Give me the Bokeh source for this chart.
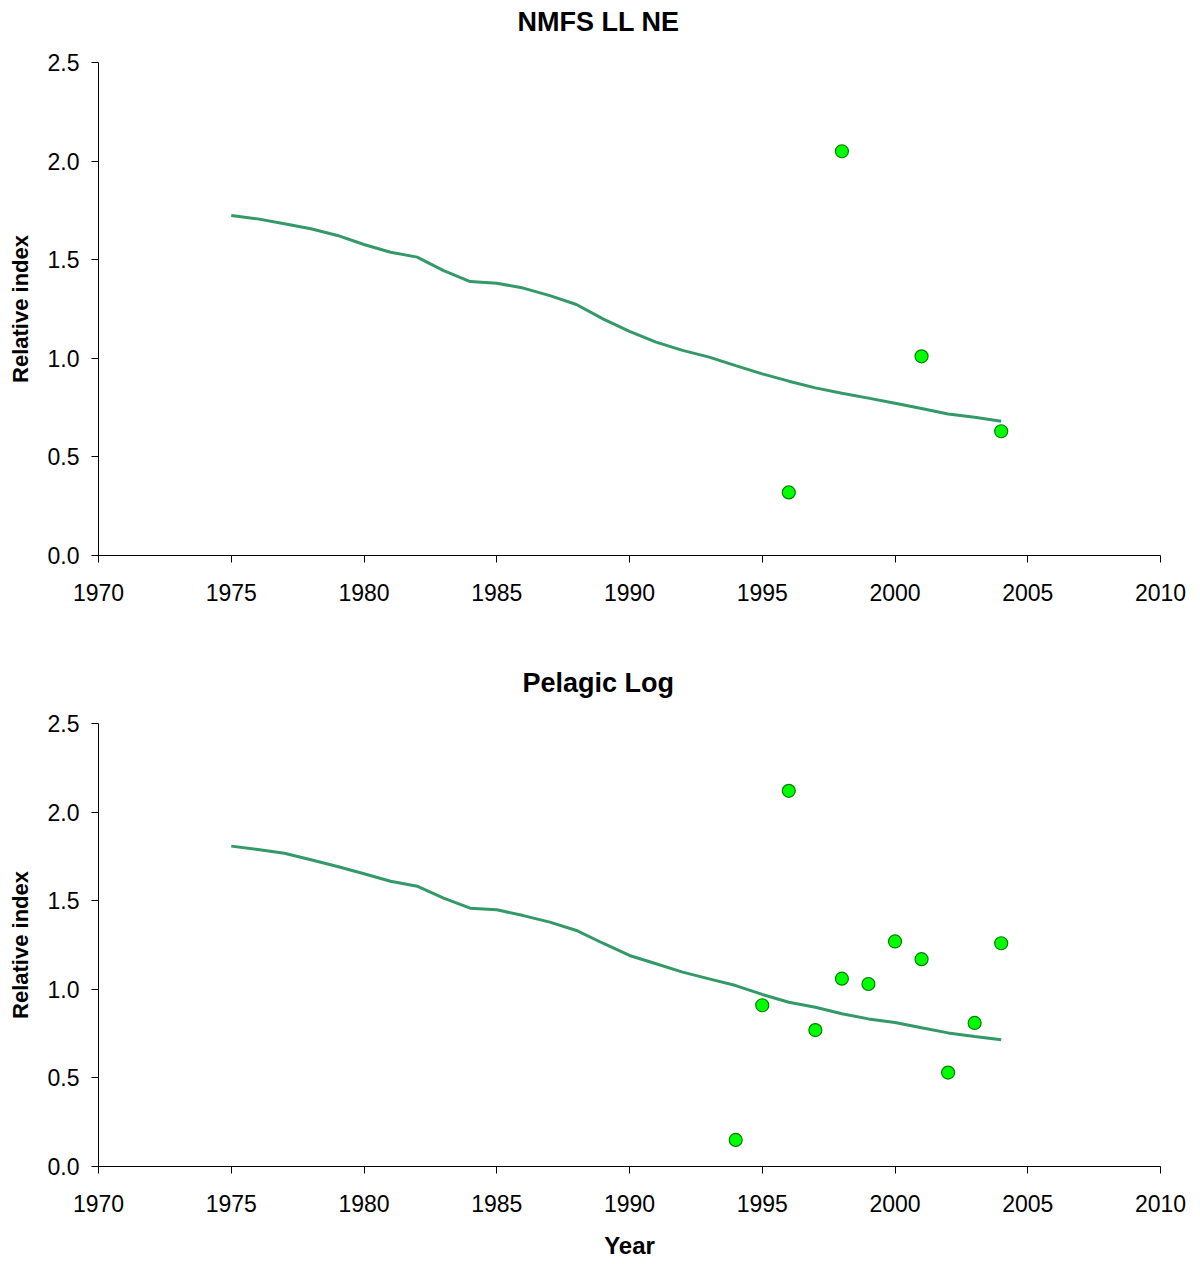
from bokeh.plotting import figure
from bokeh.layouts import column
from bokeh.models import Range1d, FixedTicker, NumeralTickFormatter, Title
from bokeh.embed import file_html
from bokeh.resources import INLINE

# Model fit years
years = list(range(1975, 2005))

# Predicted relative index, NMFS longline (north-east)
nmfs_fit = [1.724, 1.707, 1.682, 1.657, 1.623, 1.577, 1.538, 1.513, 1.445, 1.389,
            1.381, 1.356, 1.318, 1.273, 1.200, 1.137, 1.082, 1.040, 1.006, 0.963,
            0.921, 0.884, 0.850, 0.823, 0.798, 0.772, 0.745, 0.718, 0.701, 0.681]
# Observed NMFS LL NE index
nmfs_obs_years = [1996, 1998, 2001, 2004]
nmfs_obs = [0.32, 2.05, 1.01, 0.63]

# Predicted relative index, pelagic logbook
pel_fit = [1.808, 1.789, 1.768, 1.731, 1.693, 1.652, 1.610, 1.582, 1.514, 1.458,
           1.449, 1.416, 1.379, 1.332, 1.260, 1.191, 1.144, 1.097, 1.059, 1.021,
           0.971, 0.927, 0.899, 0.862, 0.833, 0.813, 0.783, 0.754, 0.734, 0.715]
# Observed pelagic logbook index
pel_obs_years = [1994, 1995, 1996, 1997, 1998, 1999, 2000, 2001, 2002, 2003, 2004]
pel_obs = [0.15, 0.91, 2.12, 0.77, 1.06, 1.03, 1.27, 1.17, 0.53, 0.81, 1.26]

x_ticks = [1970, 1975, 1980, 1985, 1990, 1995, 2000, 2005, 2010]
y_ticks = [0.0, 0.5, 1.0, 1.5, 2.0, 2.5]

FONT = "Liberation Sans"
LINE_COLOR = "#339966"


def panel(title, title_shift, fit, obs_years, obs, height, top, bottom,
          xlabel=None):
    p = figure(width=1200, height=height, output_backend="svg",
               toolbar_location=None, title=None,
               x_range=Range1d(1970, 2010), y_range=Range1d(0, 2.5),
               min_border_left=98, min_border_right=40,
               min_border_top=top, min_border_bottom=bottom)
    p.outline_line_color = None
    p.xgrid.visible = False
    p.ygrid.visible = False

    # blank band between the frame and the heading
    p.add_layout(Title(text=" ", text_font_size="14px", standoff=8), "above")
    # heading, centred over the whole page
    p.add_layout(Title(text=title, align="left", offset=title_shift,
                       text_font=FONT, text_font_size="27px",
                       text_font_style="bold", text_color="black",
                       standoff=0), "above")

    for ax in (p.xaxis, p.yaxis):
        ax.axis_line_color = "black"
        ax.major_tick_line_color = "black"
        ax.major_tick_out = 7
        ax.major_tick_in = 0
        ax.minor_tick_line_color = None
        ax.major_label_text_font = FONT
        ax.major_label_text_font_size = "23px"
        ax.major_label_text_color = "black"
        ax.axis_label_text_font = FONT
        ax.axis_label_text_font_style = "bold"
        ax.axis_label_text_color = "black"

    p.xaxis.ticker = FixedTicker(ticks=x_ticks)
    p.yaxis.ticker = FixedTicker(ticks=y_ticks)
    p.yaxis.formatter = NumeralTickFormatter(format="0.0")
    p.xaxis.major_label_standoff = 21
    p.yaxis.major_label_standoff = 12

    p.yaxis.axis_label = "Relative index"
    p.yaxis.axis_label_text_font_size = "22px"
    p.yaxis.axis_label_standoff = 12
    if xlabel:
        p.xaxis.axis_label = xlabel
        p.xaxis.axis_label_text_font_size = "24px"
        p.xaxis.axis_label_standoff = 17

    p.line(years, fit, line_color=LINE_COLOR, line_width=3)
    p.scatter(obs_years, obs, size=13, fill_color="#00FF00",
              line_color="#008000", line_width=1.2)
    return p


top_panel = panel("NMFS LL NE", 419, nmfs_fit, nmfs_obs_years, nmfs_obs,
                  632, 62, 77)
bottom_panel = panel("Pelagic Log", 424, pel_fit, pel_obs_years, pel_obs,
                     632, 91, 98, xlabel="Year")

layout = column(top_panel, bottom_panel, spacing=0)
open("out.html", "w").write(file_html(layout, INLINE))
